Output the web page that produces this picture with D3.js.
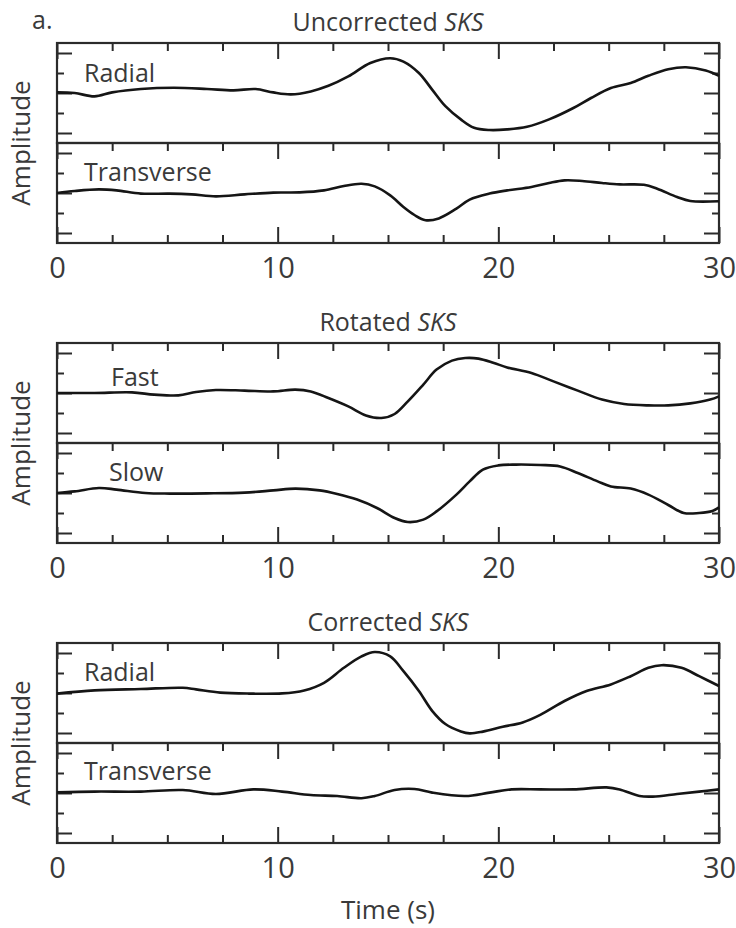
<!DOCTYPE html>
<html>
<head>
<meta charset="utf-8">
<script src="https://cdnjs.cloudflare.com/ajax/libs/d3/7.8.5/d3.min.js"></script>
<style>
  body { margin: 0; background: #fff; }
  svg { display: block; font-family: "Open Sans", "Noto Sans", sans-serif; }
</style>
</head>
<body>
<div id="chart"></div>
<script>
// seismograms, time in s, amplitude in tick units
var uncorrectedRadial = [[0,0.03],[0.8,0],[1.7,-0.17],[2.5,0.03],[3.8,0.2],[5.3,0.26],[6.8,0.2],[8.0,0.13],[9.0,0.2],[9.8,0.03],[10.6,-0.07],[11.5,0.08],[12.3,0.36],[13.2,0.83],[14.2,1.5],[15.1,1.74],[15.7,1.57],[16.4,1.0],[17.0,0.17],[17.6,-0.66],[18.3,-1.32],[18.9,-1.74],[19.6,-1.85],[20.4,-1.82],[21.3,-1.69],[22.3,-1.32],[23.4,-0.75],[24.2,-0.25],[25.1,0.25],[26.0,0.5],[26.8,0.86],[27.7,1.19],[28.5,1.29],[29.4,1.13],[30,0.86]];
var uncorrectedTransverse = [[0,0],[0.8,0.1],[1.9,0.18],[2.7,0.13],[3.8,-0.03],[5.1,-0.03],[6.1,-0.07],[7.2,-0.17],[8.5,-0.07],[9.8,0.02],[11.0,0.03],[12.1,0.13],[13.0,0.35],[13.8,0.46],[14.4,0.33],[15.1,-0.12],[15.7,-0.7],[16.2,-1.1],[16.7,-1.36],[17.3,-1.27],[18.1,-0.78],[18.7,-0.33],[19.6,-0.03],[20.4,0.13],[21.5,0.3],[22.3,0.5],[23.0,0.63],[23.8,0.6],[24.7,0.5],[25.5,0.43],[26.6,0.41],[27.2,0.21],[28.1,-0.2],[28.7,-0.4],[30,-0.41]];
var rotatedFast = [[0,0],[1.7,0],[3.4,0.03],[4.4,-0.08],[5.5,-0.12],[6.3,0.05],[7.2,0.15],[8.5,0.12],[9.8,0.08],[10.8,0.17],[11.5,0.08],[12.3,-0.25],[13.2,-0.67],[14.0,-1.12],[14.7,-1.25],[15.3,-1.05],[15.9,-0.42],[16.6,0.42],[17.2,1.17],[17.9,1.62],[18.5,1.75],[19.1,1.72],[19.8,1.5],[20.4,1.28],[21.5,1.0],[22.5,0.58],[23.6,0.12],[24.7,-0.33],[25.7,-0.55],[26.8,-0.62],[27.7,-0.62],[28.7,-0.52],[29.6,-0.33],[30,-0.17]];
var rotatedSlow = [[0,0],[0.8,0.08],[1.9,0.25],[2.7,0.17],[4.0,0],[5.1,-0.03],[6.8,-0.02],[8.5,0.02],[9.8,0.13],[10.8,0.22],[11.9,0.13],[12.7,-0.05],[13.6,-0.33],[14.5,-0.75],[15.3,-1.25],[15.9,-1.45],[16.6,-1.33],[17.2,-0.92],[18.1,-0.08],[18.7,0.58],[19.3,1.17],[20.0,1.38],[20.8,1.42],[21.9,1.4],[22.8,1.33],[23.6,1.0],[24.5,0.58],[25.1,0.33],[26.0,0.22],[26.8,-0.08],[27.7,-0.6],[28.4,-1.0],[29.1,-1.0],[29.7,-0.9],[30,-0.72]];
var correctedRadial = [[0,-0.03],[1.7,0.13],[3.8,0.2],[5.7,0.26],[6.3,0.18],[7.4,0.02],[8.7,-0.03],[10.2,-0.02],[11.2,0.13],[12.1,0.51],[13.0,1.26],[13.8,1.83],[14.4,2.05],[15.1,1.83],[15.7,1.09],[16.4,0.1],[17.0,-0.89],[17.6,-1.55],[18.3,-1.92],[18.7,-2.02],[19.3,-1.93],[20.2,-1.69],[21.1,-1.47],[21.9,-1.09],[23.0,-0.4],[24.0,0.1],[25.1,0.43],[26.0,0.84],[26.8,1.26],[27.4,1.39],[28.3,1.26],[29.1,0.84],[30,0.35]];
var correctedTransverse = [[0,0.03],[1.7,0.07],[3.8,0.07],[5.7,0.15],[7.2,-0.05],[8.9,0.18],[10.2,0.07],[11.5,-0.1],[12.7,-0.15],[13.8,-0.26],[14.4,-0.15],[15.3,0.15],[16.2,0.2],[17.0,0.02],[18.5,-0.15],[19.6,0.02],[20.6,0.18],[21.9,0.18],[23.4,0.18],[24.9,0.28],[25.5,0.18],[26.4,-0.15],[27.0,-0.18],[28.1,-0.05],[29.1,0.07],[30,0.18]];

var panelTitles = ["Uncorrected", "Rotated", "Corrected"];
var traceNames = [["Radial", "Transverse"], ["Fast", "Slow"], ["Radial", "Transverse"]];
var traceData = [[uncorrectedRadial, uncorrectedTransverse], [rotatedFast, rotatedSlow], [correctedRadial, correctedTransverse]];
var xMajorTicks = [0, 10, 20, 30];
var xMinorTicks = [2.5, 5, 7.5, 12.5, 15, 17.5, 22.5, 25, 27.5];
var yLongTicks = [-2, 0, 2];
var yShortTicks = [-1, 1];

// layout
var width = 736, height = 928;
var left = 57, right = 719;
var panelTop = 43, panelStep = 300, subHeight = 100;
var labelPos = [[[84, 39], [84, 38]], [[111, 43], [109, 38]], [[84, 38], [84, 37]]];
var ink = "#2b2b2b", textInk = "#3a3a3a";

var svg = d3.select("#chart").append("svg")
    .attr("width", width)
    .attr("height", height);

var x = d3.scaleLinear().domain([0, 30]).range([left, right]);

svg.append("text")
    .attr("x", 32).attr("y", 29)
    .attr("font-size", 25)
    .attr("fill", textInk)
    .text("a.");

function drawSub(g, data, name, pos, isLast) {
    var y = d3.scaleLinear().domain([-2.5, 2.5]).range([subHeight, 0]);

    // ticks along the top edge, pointing in
    g.append("g").call(d3.axisTop(x).tickValues(xMinorTicks).tickSize(-8).tickFormat(""))
        .call(styleAxis);
    g.append("g").call(d3.axisTop(x).tickValues(xMajorTicks).tickSize(-16).tickFormat(""))
        .call(styleAxis);
    if (isLast) {
        g.append("g").attr("transform", "translate(0," + subHeight + ")")
            .call(d3.axisBottom(x).tickValues(xMinorTicks).tickSize(-8).tickFormat(""))
            .call(styleAxis);
        g.append("g").attr("transform", "translate(0," + subHeight + ")")
            .call(d3.axisBottom(x).tickValues(xMajorTicks).tickSize(-16).tickFormat(""))
            .call(styleAxis);
    }
    // amplitude ticks both sides
    g.append("g").attr("transform", "translate(" + left + ",0)")
        .call(d3.axisLeft(y).tickValues(yLongTicks).tickSize(-15).tickFormat("")).call(styleAxis);
    g.append("g").attr("transform", "translate(" + left + ",0)")
        .call(d3.axisLeft(y).tickValues(yShortTicks).tickSize(-7).tickFormat("")).call(styleAxis);
    g.append("g").attr("transform", "translate(" + right + ",0)")
        .call(d3.axisRight(y).tickValues(yLongTicks).tickSize(-15).tickFormat("")).call(styleAxis);
    g.append("g").attr("transform", "translate(" + right + ",0)")
        .call(d3.axisRight(y).tickValues(yShortTicks).tickSize(-7).tickFormat("")).call(styleAxis);

    g.append("rect")
        .attr("x", left).attr("y", 0)
        .attr("width", right - left).attr("height", subHeight)
        .attr("fill", "none")
        .attr("stroke", ink)
        .attr("stroke-width", 2.2);

    var line = d3.line()
        .x(function(d) { return x(d[0]); })
        .y(function(d) { return y(d[1]); })
        .curve(d3.curveCatmullRom.alpha(0.5));

    g.append("path")
        .datum(data)
        .attr("d", line)
        .attr("fill", "none")
        .attr("stroke", "#151515")
        .attr("stroke-width", 2.6)
        .attr("stroke-linejoin", "round");

    g.append("text")
        .attr("x", pos[0]).attr("y", pos[1])
        .attr("font-size", 25)
        .attr("fill", textInk)
        .text(name);
}

function styleAxis(a) {
    a.select(".domain").remove();
    a.selectAll("line").attr("stroke", ink).attr("stroke-width", 2);
}

panelTitles.forEach(function(title, i) {
    var top = panelTop + i * panelStep;
    var panel = svg.append("g").attr("transform", "translate(0," + top + ")");

    var t = panel.append("text")
        .attr("x", (left + right) / 2).attr("y", -12)
        .attr("text-anchor", "middle")
        .attr("font-size", 25)
        .attr("fill", textInk);
    t.append("tspan").text(title + " ");
    t.append("tspan").attr("font-style", "italic").text("SKS");

    for (var k = 0; k < 2; k++) {
        var sub = panel.append("g").attr("transform", "translate(0," + (k * subHeight) + ")");
        drawSub(sub, traceData[i][k], traceNames[i][k], labelPos[i][k], k == 1);
    }

    // time labels
    var ax = panel.append("g").attr("transform", "translate(0," + (2 * subHeight) + ")")
        .call(d3.axisBottom(x).tickValues(xMajorTicks).tickSize(0).tickPadding(14).tickFormat(d3.format("d")));
    ax.select(".domain").remove();
    ax.selectAll("text")
        .attr("font-size", 29)
        .attr("font-family", "'Open Sans', 'Noto Sans', sans-serif")
        .attr("fill", textInk);

    panel.append("text")
        .attr("transform", "translate(30," + subHeight + ") rotate(-90)")
        .attr("text-anchor", "middle")
        .attr("font-size", 26)
        .attr("fill", textInk)
        .text("Amplitude");
});

svg.append("text")
    .attr("x", (left + right) / 2).attr("y", 919)
    .attr("text-anchor", "middle")
    .attr("font-size", 26)
    .attr("fill", textInk)
    .text("Time (s)");
</script>
</body>
</html>
